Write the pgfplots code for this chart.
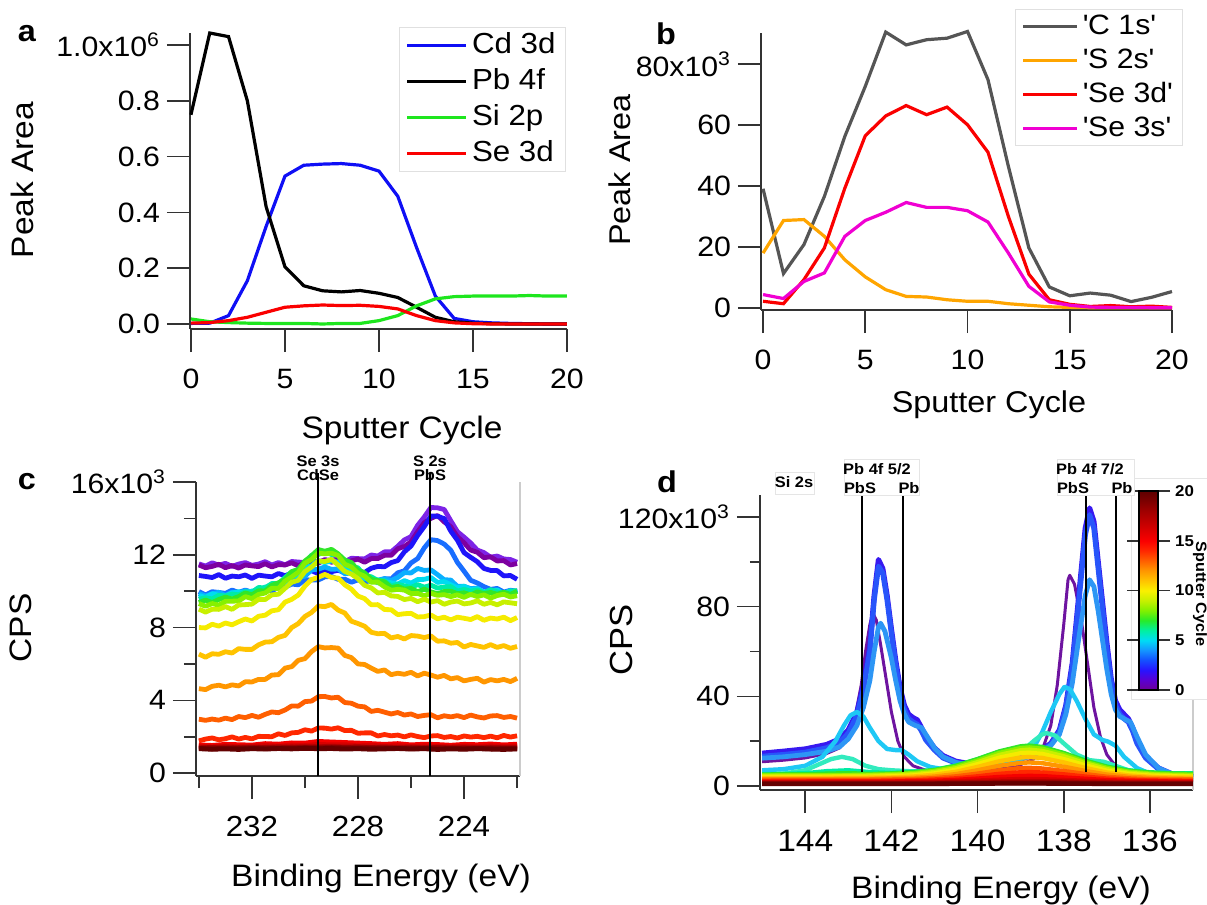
\documentclass[border=0pt]{standalone}
\usepackage{fontspec}
\setmainfont[FakeStretch=1.08]{Liberation Sans}
\usepackage{pgfplots}
\usepackage{pgfplotstable}
\pgfplotsset{compat=1.18}

\definecolor{cdblue}{RGB}{15,15,245}
\definecolor{sigreen}{RGB}{30,230,30}
\definecolor{sered}{RGB}{250,0,0}
\definecolor{cgray}{RGB}{85,85,85}
\definecolor{sorange}{RGB}{255,165,0}
\definecolor{semag}{RGB}{240,0,210}
\definecolor{s0}{RGB}{125,35,230}
\definecolor{s1}{RGB}{125,0,160}
\definecolor{s2}{RGB}{30,20,250}
\definecolor{s3}{RGB}{25,110,255}
\definecolor{s4}{RGB}{10,175,255}
\definecolor{s5}{RGB}{0,220,240}
\definecolor{s6}{RGB}{0,235,165}
\definecolor{s7}{RGB}{50,230,40}
\definecolor{s8}{RGB}{135,240,0}
\definecolor{s9}{RGB}{200,240,0}
\definecolor{s10}{RGB}{245,235,0}
\definecolor{s11}{RGB}{255,195,0}
\definecolor{s12}{RGB}{255,150,0}
\definecolor{s13}{RGB}{255,95,0}
\definecolor{s14}{RGB}{255,40,0}
\definecolor{s15}{RGB}{245,0,0}
\definecolor{s16}{RGB}{215,0,0}
\definecolor{s17}{RGB}{185,0,0}
\definecolor{s18}{RGB}{155,0,0}
\definecolor{s19}{RGB}{125,0,0}
\definecolor{s20}{RGB}{100,0,0}
\definecolor{dpurple}{RGB}{110,20,160}
\definecolor{dblueA}{RGB}{55,25,240}
\definecolor{dblueB}{RGB}{40,85,250}
\definecolor{dblueC}{RGB}{45,150,245}
\definecolor{dcyan}{RGB}{30,200,245}
\definecolor{daqua}{RGB}{50,235,190}

\pgfplotsset{
  igor/.style={
    scale only axis,
    axis lines*=left,
    axis line style={black!80, line width=0.8pt},
    every tick/.style={black!80, line width=0.8pt},
    tick align=outside,
    major tick length=11.5pt,
    minor tick length=6pt,
    /pgf/number format/assume math mode=true,
    tick label style={font=\fontsize{14}{16}\selectfont},
    xticklabel style={yshift=-5pt},
    clip=false,
    legend cell align=left,
  },
}

% panel c: spectra, thousands of CPS, cycles 0-14
\pgfplotstableread{
x c0 c1 c2 c3 c4 c5 c6 c7 c8 c9 c10 c11 c12 c13 c14
234.00 11.50 11.44 10.86 9.98 9.87 9.76 9.55 9.37 9.32 9.01 8.00 6.54 4.64 2.96 1.77
233.75 11.38 11.29 10.81 9.79 9.73 9.65 9.64 9.51 9.17 8.85 7.98 6.37 4.59 2.90 1.87
233.50 11.56 11.36 10.75 9.97 9.85 9.86 9.57 9.37 9.32 9.01 8.18 6.56 4.77 2.97 1.93
233.25 11.43 11.48 10.91 9.93 9.94 9.77 9.77 9.54 9.23 9.00 8.08 6.53 4.83 2.91 1.83
233.00 11.53 11.29 10.71 9.88 9.76 9.72 9.73 9.67 9.44 9.15 8.25 6.67 4.74 3.02 1.89
232.75 11.36 11.41 10.83 10.06 9.94 9.90 9.84 9.57 9.45 9.00 8.15 6.60 4.85 2.94 1.99
232.50 11.49 11.27 10.79 9.93 9.90 9.97 9.80 9.70 9.46 9.24 8.32 6.84 4.79 3.11 1.87
232.25 11.57 11.44 10.89 10.06 10.03 9.89 9.97 9.90 9.70 9.26 8.47 6.80 5.02 3.05 1.96
232.00 11.42 11.39 10.70 9.94 9.95 10.01 9.92 9.80 9.59 9.29 8.36 6.80 5.01 3.17 1.88
231.75 11.49 11.35 10.88 10.07 10.18 9.98 10.20 10.02 9.82 9.55 8.62 7.05 5.15 3.07 2.02
231.50 11.62 11.51 10.83 10.17 10.13 10.23 10.18 10.01 9.90 9.54 8.68 7.20 5.15 3.23 2.01
231.25 11.44 11.33 10.79 10.01 10.13 10.25 10.42 10.32 10.16 9.80 8.92 7.22 5.39 3.36 2.00
231.00 11.57 11.46 10.97 10.22 10.36 10.44 10.41 10.46 10.15 9.83 8.98 7.46 5.41 3.32 2.16
230.75 11.45 11.44 10.85 10.22 10.51 10.50 10.75 10.64 10.55 10.16 9.40 7.57 5.77 3.47 2.07
230.50 11.63 11.56 10.99 10.39 10.52 10.80 11.06 11.07 10.78 10.49 9.55 8.00 5.85 3.69 2.21
230.25 11.60 11.39 10.88 10.35 10.75 10.89 11.19 11.19 11.04 10.60 9.79 8.22 6.20 3.68 2.24
230.00 11.57 11.59 11.01 10.63 10.82 11.30 11.56 11.66 11.54 11.08 10.28 8.61 6.29 3.93 2.38
229.75 11.76 11.57 11.13 10.61 11.17 11.40 11.98 11.94 11.74 11.33 10.64 8.83 6.68 3.96 2.31
229.50 11.58 11.54 10.96 10.61 11.21 11.68 12.01 12.29 12.10 11.66 10.76 9.18 6.95 4.20 2.48
229.25 11.73 11.72 11.13 10.79 11.33 11.57 12.21 12.19 12.05 11.63 10.92 9.15 6.88 4.21 2.47
229.00 11.69 11.59 11.07 10.81 11.20 11.66 12.01 12.30 12.09 11.75 10.75 9.27 6.90 4.13 2.42
228.75 11.80 11.71 11.15 10.65 11.22 11.59 12.00 12.05 11.96 11.44 10.72 8.96 6.87 4.17 2.49
228.50 11.62 11.57 11.02 10.66 10.96 11.26 11.70 11.71 11.48 11.09 10.35 8.80 6.47 3.88 2.34
228.25 11.81 11.67 11.20 10.49 11.00 11.12 11.37 11.57 11.33 10.94 10.11 8.35 6.35 3.84 2.35
228.00 11.79 11.76 11.09 10.62 10.75 11.05 11.28 11.15 10.98 10.69 9.73 8.22 6.00 3.68 2.19
227.75 11.77 11.59 11.03 10.51 10.75 10.70 10.85 11.01 10.82 10.32 9.59 8.07 5.97 3.64 2.21
227.50 11.99 11.79 11.26 10.58 10.51 10.68 10.79 10.65 10.49 10.18 9.25 7.74 5.77 3.39 2.21
227.25 11.93 11.79 11.36 10.51 10.61 10.45 10.59 10.58 10.50 9.90 9.26 7.66 5.59 3.45 2.04
227.00 12.16 11.97 11.34 10.69 10.69 10.54 10.57 10.51 10.24 9.94 8.99 7.68 5.67 3.35 2.12
226.75 12.16 11.97 11.57 10.67 10.59 10.46 10.28 10.20 10.05 9.74 8.98 7.43 5.41 3.25 2.05
226.50 12.47 12.33 11.68 11.01 10.75 10.39 10.38 10.26 10.10 9.71 8.71 7.51 5.49 3.33 2.09
226.25 12.82 12.46 12.16 11.12 11.02 10.58 10.29 10.11 10.06 9.54 8.76 7.37 5.43 3.19 1.99
226.00 13.00 12.71 12.48 11.55 11.00 10.44 10.21 10.15 9.87 9.60 8.78 7.56 5.54 3.25 2.10
225.75 13.62 13.27 13.06 11.79 11.25 10.64 10.36 9.97 9.88 9.42 8.58 7.53 5.34 3.11 2.01
225.50 14.08 13.76 13.55 12.38 11.14 10.65 10.22 10.11 9.74 9.56 8.60 7.45 5.49 3.17 1.95
225.25 14.60 14.00 14.13 12.83 11.17 10.75 10.33 9.96 9.88 9.40 8.69 7.54 5.39 3.21 2.04
225.00 14.58 14.16 14.12 12.78 10.91 10.48 10.17 9.86 9.77 9.48 8.48 7.25 5.27 3.04 2.06
224.75 14.49 13.81 13.99 12.59 10.63 10.53 10.23 9.98 9.81 9.28 8.57 7.27 5.37 3.15 1.96
224.50 13.87 13.54 13.30 12.25 10.61 10.35 10.25 10.00 9.70 9.40 8.42 7.14 5.18 3.09 2.01
224.25 13.27 12.99 12.80 11.58 10.26 10.19 10.00 9.86 9.80 9.46 8.57 7.18 5.25 3.16 1.93
224.00 12.97 12.66 12.12 11.10 10.27 10.27 10.10 9.91 9.66 9.30 8.51 6.93 5.07 3.05 2.04
223.75 12.65 12.26 11.86 10.60 10.14 10.07 10.00 9.79 9.83 9.35 8.44 7.07 5.15 3.19 1.98
223.50 12.26 12.14 11.62 10.45 10.17 10.13 10.07 9.96 9.70 9.47 8.60 6.99 5.21 3.09 2.02
223.25 12.12 11.84 11.25 10.25 9.93 9.94 9.92 9.87 9.80 9.28 8.40 6.91 5.00 3.03 1.95
223.00 11.87 11.89 11.14 10.10 10.06 10.02 10.08 9.93 9.62 9.38 8.52 7.06 5.14 3.14 2.03
222.75 11.93 11.66 11.13 10.15 9.98 10.07 9.96 9.83 9.76 9.25 8.47 6.91 5.07 3.16 1.94
222.50 11.77 11.68 10.84 9.95 9.89 9.85 9.87 9.94 9.83 9.41 8.57 7.01 5.15 3.06 2.07
222.25 11.74 11.44 10.86 10.05 10.04 9.99 10.00 9.82 9.68 9.36 8.38 6.86 5.03 3.11 1.98
222.00 11.59 11.52 10.65 10.00 9.89 9.92 10.03 10.00 9.75 9.31 8.55 6.96 5.21 3.02 2.05
}\speccee

% panel c: cycles 15-20, nearly flat
\pgfplotstableread{
x c15 c16 c17 c18 c19 c20
234.0 1.55 1.48 1.43 1.38 1.36 1.34
233.5 1.52 1.45 1.40 1.41 1.33 1.31
233.0 1.58 1.50 1.45 1.37 1.37 1.33
232.5 1.56 1.46 1.41 1.40 1.35 1.30
232.0 1.54 1.49 1.44 1.38 1.38 1.34
231.5 1.62 1.52 1.42 1.42 1.34 1.32
231.0 1.59 1.48 1.46 1.39 1.37 1.35
230.5 1.66 1.54 1.43 1.43 1.36 1.33
230.0 1.65 1.51 1.47 1.40 1.39 1.36
229.5 1.74 1.58 1.45 1.42 1.37 1.34
229.0 1.71 1.55 1.48 1.44 1.40 1.35
228.5 1.68 1.56 1.44 1.40 1.38 1.32
228.0 1.65 1.50 1.46 1.42 1.36 1.34
227.5 1.62 1.53 1.42 1.39 1.38 1.31
227.0 1.58 1.48 1.45 1.41 1.35 1.33
226.5 1.62 1.51 1.41 1.37 1.37 1.35
226.0 1.55 1.46 1.44 1.40 1.34 1.32
225.5 1.59 1.50 1.40 1.38 1.36 1.34
225.0 1.57 1.47 1.43 1.41 1.33 1.30
224.5 1.53 1.45 1.41 1.37 1.36 1.33
224.0 1.58 1.49 1.44 1.39 1.34 1.31
223.5 1.56 1.46 1.40 1.36 1.37 1.34
223.0 1.60 1.50 1.43 1.40 1.33 1.32
222.5 1.55 1.47 1.41 1.38 1.35 1.30
222.0 1.59 1.49 1.42 1.37 1.34 1.33
}\specflat

% panel d: cycles 6-20, broad peak
\pgfplotstableread{
x d6 d7 d8 d9 d10 d11 d12 d13 d14 d15 d16 d17 d18 d19 d20
145.0 5.3 5.1 4.7 4.3 3.9 3.5 3.1 2.7 2.2 1.9 1.6 1.4 1.2 1.0 0.9
144.5 5.4 5.2 4.8 4.4 3.9 3.5 3.1 2.7 2.3 1.9 1.6 1.4 1.2 1.0 0.9
144.0 5.7 5.2 4.8 4.4 4.0 3.5 3.1 2.7 2.3 1.9 1.6 1.4 1.2 1.0 0.9
143.5 6.6 5.5 4.8 4.4 4.0 3.6 3.1 2.7 2.3 2.0 1.6 1.4 1.2 1.0 0.9
143.0 7.0 5.7 4.9 4.5 4.1 3.6 3.2 2.7 2.3 2.0 1.6 1.4 1.2 1.0 0.9
142.5 6.2 5.4 5.0 4.6 4.1 3.7 3.2 2.8 2.3 2.0 1.6 1.4 1.2 1.0 0.9
142.0 5.8 5.6 5.2 4.8 4.3 3.8 3.4 2.9 2.4 2.0 1.7 1.4 1.2 1.0 0.9
141.5 6.3 6.1 5.7 5.2 4.7 4.2 3.6 3.1 2.5 2.1 1.7 1.5 1.2 1.0 0.9
141.0 7.2 7.1 6.7 6.2 5.6 5.0 4.2 3.5 2.9 2.3 1.8 1.5 1.3 1.0 0.9
140.5 9.1 9.0 8.5 7.9 7.2 6.3 5.3 4.3 3.4 2.7 2.1 1.6 1.4 1.1 1.0
140.0 11.9 12.0 11.3 10.6 9.7 8.5 7.0 5.5 4.3 3.3 2.4 1.8 1.5 1.2 1.0
139.5 15.2 15.4 14.7 13.8 12.6 11.0 9.0 7.0 5.4 4.0 2.8 2.0 1.6 1.2 1.1
139.0 17.4 17.7 16.9 15.9 14.6 12.7 10.3 8.0 6.1 4.4 3.1 2.2 1.7 1.3 1.1
138.8 17.7 18.0 17.2 16.2 14.8 12.9 10.5 8.1 6.2 4.5 3.1 2.2 1.7 1.3 1.1
138.5 17.1 17.4 16.6 15.6 14.3 12.5 10.2 7.8 6.0 4.4 3.0 2.2 1.7 1.3 1.1
138.0 14.5 14.7 14.0 13.2 12.0 10.5 8.6 6.7 5.2 3.8 2.7 2.0 1.6 1.2 1.0
137.5 11.3 11.3 10.7 10.1 9.2 8.0 6.7 5.3 4.2 3.2 2.3 1.8 1.4 1.1 1.0
137.0 8.6 8.6 8.1 7.5 6.8 6.0 5.1 4.1 3.3 2.6 2.0 1.6 1.3 1.1 0.9
136.5 7.0 6.8 6.4 5.9 5.4 4.7 4.1 3.4 2.8 2.3 1.8 1.5 1.3 1.0 0.9
136.0 6.1 6.0 5.5 5.1 4.6 4.1 3.6 3.0 2.5 2.1 1.7 1.5 1.2 1.0 0.9
135.5 5.7 5.6 5.1 4.7 4.3 3.8 3.3 2.8 2.4 2.0 1.7 1.4 1.2 1.0 0.9
135.0 5.6 5.4 5.0 4.5 4.1 3.7 3.2 2.8 2.3 2.0 1.6 1.4 1.2 1.0 0.9
}\specdee

\begin{document}
\begin{tikzpicture}
\useasboundingbox (0,0) rectangle (603.5pt,-452.5pt);

% ---------------- a ----------------
\begin{axis}[igor,
  at={(95pt,-164.5pt)}, anchor=south west,
  width=188.5pt, height=148pt,
  xmin=-0.05, xmax=20, ymin=-0.018, ymax=1.043,
  xtick={0,5,10,15,20}, ytick={0,0.2,0.4,0.6,0.8,1.0},
  yticklabels={0.0,0.2,0.4,0.6,0.8,1.0x10\textsuperscript{6}},
  legend style={at={(1,1)}, anchor=north east, xshift=-0.5pt, yshift=3pt,
    draw=black!12, fill=white, inner xsep=3pt, inner ysep=0pt,
    font=\fontsize{14.5}{16}\selectfont,
    nodes={text height=11pt, text depth=3pt, inner sep=2pt},
    /tikz/every even column/.append style={column sep=5.5pt}},
  legend image code/.code={\draw[#1, line width=1.75pt] (0pt,0pt) -- (29.5pt,0pt);},
]
\addplot[cdblue, line width=1.6pt] coordinates {
  (0,0.002) (1,0.003) (2,0.03) (3,0.155) (4,0.35) (5,0.53) (6,0.569) (7,0.573)
  (8,0.575) (9,0.569) (10,0.548) (11,0.458) (12,0.274) (13,0.10) (14,0.02)
  (15,0.008) (16,0.004) (17,0.002) (18,0.001) (19,0.0) (20,0.0)};
\addlegendentry{Cd 3d}
\addplot[black, line width=1.6pt] coordinates {
  (0,0.75) (1,1.043) (2,1.03) (3,0.80) (4,0.42) (5,0.205) (6,0.137) (7,0.119)
  (8,0.115) (9,0.12) (10,0.11) (11,0.095) (12,0.06) (13,0.024) (14,0.008)
  (15,0.003) (16,0.001) (17,0) (18,0) (19,0) (20,0)};
\addlegendentry{Pb 4f}
\addplot[sigreen, line width=1.6pt] coordinates {
  (0,0.018) (1,0.008) (2,0.005) (3,0.003) (4,0.002) (5,0.002) (6,0.002) (7,0.0)
  (8,0.002) (9,0.002) (10,0.012) (11,0.03) (12,0.065) (13,0.09) (14,0.098)
  (15,0.1) (16,0.1) (17,0.1) (18,0.102) (19,0.1) (20,0.1)};
\addlegendentry{Si 2p}
\addplot[sered, line width=1.6pt] coordinates {
  (0,0.003) (1,0.005) (2,0.012) (3,0.024) (4,0.042) (5,0.06) (6,0.065) (7,0.068)
  (8,0.066) (9,0.067) (10,0.063) (11,0.054) (12,0.03) (13,0.012) (14,0.004)
  (15,0.001) (16,0) (17,0) (18,0) (19,0) (20,0)};
\addlegendentry{Se 3d}
\end{axis}

% ---------------- b ----------------
\begin{axis}[igor,
  at={(380.5pt,-155pt)}, anchor=south west,
  width=205.5pt, height=138.5pt,
  xmin=-0.1, xmax=20, ymin=-0.66, ymax=90.2,
  xtick={0,5,10,15,20}, ytick={0,20,40,60,80},
  yticklabels={0,20,40,60,80x10\textsuperscript{3}},
  legend style={at={(1,1)}, anchor=north east, xshift=5.5pt, yshift=12pt,
    draw=black!12, fill=white, inner xsep=3pt, inner ysep=0pt,
    font=\fontsize{14}{16}\selectfont,
    nodes={text height=10.5pt, text depth=2.5pt, inner sep=2pt},
    /tikz/every even column/.append style={column sep=4.5pt}},
  legend image code/.code={\draw[#1, line width=1.75pt] (0pt,0pt) -- (27pt,0pt);},
]
\addplot[cgray, line width=1.6pt] coordinates {
  (0,39.1) (1,11.3) (2,20.8) (3,36.6) (4,56.3) (5,72.7) (6,90.5) (7,86.3)
  (8,88.0) (9,88.5) (10,90.7) (11,74.9) (12,46.4) (13,19.7) (14,6.9)
  (15,4.0) (16,4.9) (17,4.2) (18,2.1) (19,3.5) (20,5.4)};
\addlegendentry{\textquotesingle C 1s\textquotesingle}
\addplot[sorange, line width=1.6pt] coordinates {
  (0,18.0) (1,28.7) (2,29.0) (3,23.5) (4,15.8) (5,10.2) (6,6.0) (7,3.8)
  (8,3.6) (9,2.7) (10,2.2) (11,2.2) (12,1.4) (13,0.9) (14,0.4)
  (15,0.2) (16,0.1) (17,0.1) (18,0.1) (19,0.1) (20,0.1)};
\addlegendentry{\textquotesingle S 2s\textquotesingle}
\addplot[sered, line width=1.6pt] coordinates {
  (0,2.2) (1,1.4) (2,9.3) (3,19.7) (4,39.3) (5,56.5) (6,63.0) (7,66.4)
  (8,63.4) (9,65.9) (10,60.1) (11,51.1) (12,30.0) (13,11.1) (14,2.7)
  (15,1.2) (16,0.5) (17,0.8) (18,0.4) (19,0.6) (20,0.2)};
\addlegendentry{\textquotesingle Se 3d\textquotesingle}
\addplot[semag, line width=1.6pt] coordinates {
  (0,4.4) (1,3.1) (2,8.7) (3,11.5) (4,23.5) (5,28.7) (6,31.4) (7,34.6)
  (8,33.0) (9,33.0) (10,31.9) (11,28.2) (12,18.0) (13,7.1) (14,2.0)
  (15,0.9) (16,0.3) (17,0.2) (18,0.2) (19,0.1) (20,0.1)};
\addlegendentry{\textquotesingle Se 3s\textquotesingle}
\end{axis}

% ---------------- c ----------------
\begin{axis}[igor,
  at={(98pt,-388pt)}, anchor=south west,
  width=162pt, height=147pt,
  x dir=reverse, xmin=221.89, xmax=234.11, ymin=-0.16, ymax=16,
  xtick={224,228,232}, minor xtick={222,226,230,234},
  ytick={0,4,8,12,16}, minor ytick={2,6,10,14},
  yticklabels={0,4,8,12,16x10\textsuperscript{3}},
  xticklabel style={font=\fontsize{14.5}{16}\selectfont},
]
\draw[black!20, line width=0.6pt] (rel axis cs:1,0) -- (rel axis cs:1,1);
\pgfplotsinvokeforeach{0,...,14}{
  \addplot[color=s#1, line width=2.4pt, line join=round] table[x=x, y=c#1] {\speccee};
}
\pgfplotsinvokeforeach{15,...,20}{
  \addplot[color=s#1, line width=2.4pt, line join=round] table[x=x, y=c#1] {\specflat};
}
\draw[black, line width=1.2pt] (axis cs:229.5,-0.16) -- (axis cs:229.5,16.5);
\draw[black, line width=1.2pt] (axis cs:225.28,-0.16) -- (axis cs:225.28,16.5);
\end{axis}

% ---------------- d ----------------
\begin{axis}[igor,
  at={(380pt,-395pt)}, anchor=south west,
  width=216.5pt, height=147.5pt,
  x dir=reverse, xmin=135.0, xmax=145.05, ymin=-1.8, ymax=129.8,
  xtick={136,138,140,142,144},
  ytick={0,40,80,120}, minor ytick={20,60,100}, minor tick length=5pt,
  yticklabels={0,40,80,120x10\textsuperscript{3}},
  xticklabel style={font=\fontsize{15.5}{17}\selectfont},
  colormap={igor}{rgb255=(110,0,150) rgb255=(90,0,210) rgb255=(40,20,255)
    rgb255=(20,80,255) rgb255=(20,150,255) rgb255=(0,220,245) rgb255=(0,240,160)
    rgb255=(40,235,40) rgb255=(130,240,0) rgb255=(200,240,0) rgb255=(250,240,0)
    rgb255=(255,195,0) rgb255=(255,150,0) rgb255=(255,95,0) rgb255=(255,40,0)
    rgb255=(250,0,0) rgb255=(220,0,0) rgb255=(190,0,0) rgb255=(160,0,0)
    rgb255=(125,0,0) rgb255=(95,0,0)},
  colorbar, point meta min=0, point meta max=20,
  colorbar style={
    at={(parent axis.north east)}, anchor=north west, xshift=-35.5pt, yshift=2pt,
    scale only axis, width=9.5pt, height=99.5pt,
    ytick={0,5,10,15,20},
    tick align=outside, major tick length=6pt,
    every tick/.style={black!80, line width=0.8pt},
    axis line style={black, line width=0.6pt},
    /pgf/number format/assume math mode=true,
    yticklabel style={font=\bfseries\fontsize{7.8}{9}\selectfont, xshift=-1pt},
  },
]
\draw[black!20, line width=0.6pt] (rel axis cs:1,0) -- (rel axis cs:1,1);
\addplot[dpurple, line width=1.5pt, line join=round] coordinates {
  (145.0,10.8) (144.5,11.5) (144.0,12.5) (143.5,14.5) (143.2,17) (143.0,22)
  (142.85,30) (142.7,45) (142.6,60) (142.5,72) (142.43,77) (142.35,74)
  (142.25,63) (142.1,45) (142.0,33) (141.85,20) (141.7,13) (141.5,9)
  (141.2,7) (140.8,6) (140.4,5.5) (140.0,6) (139.5,7.5) (139.0,9.5)
  (138.7,12) (138.5,16) (138.3,27) (138.15,45) (138.0,72) (137.9,92)
  (137.86,94) (137.75,90) (137.6,75) (137.45,55) (137.3,35) (137.15,22)
  (137.0,14) (136.8,9) (136.5,6) (136.0,4) (135.5,3.2) (135.0,3)};
\addplot[dblueA, line width=2.6pt, line join=round] coordinates {
  (145.0,14.6) (144.5,15.5) (144.0,16.5) (143.5,18.5) (143.2,21) (143.0,25)
  (142.8,33) (142.65,45) (142.5,62) (142.4,85) (142.3,101) (142.2,97)
  (142.1,85) (142.0,70) (141.9,56) (141.8,44) (141.7,36) (141.6,32)
  (141.5,30.5) (141.4,29.5) (141.3,26) (141.2,22) (141.0,17) (140.8,13.5)
  (140.5,11) (140.2,10) (140.0,9.8) (139.5,10.5) (139.0,12.5) (138.6,15)
  (138.3,19) (138.1,25) (137.95,36) (137.8,55) (137.65,85) (137.5,115)
  (137.4,124) (137.3,118) (137.2,100) (137.1,82) (137.0,64) (136.9,48)
  (136.8,38) (136.7,34) (136.6,32) (136.5,30) (136.4,26) (136.3,20)
  (136.1,13) (135.8,8) (135.5,5.5) (135.0,4.2)};
\addplot[dblueB, line width=2.6pt, line join=round] coordinates {
  (145.0,13.2) (144.5,14.0) (144.0,15.0) (143.5,17.0) (143.2,19.5) (143.0,23.5)
  (142.8,31.5) (142.65,43) (142.5,60) (142.4,83) (142.3,98) (142.2,95)
  (142.1,83) (142.0,68) (141.9,54) (141.8,42) (141.7,34) (141.6,30)
  (141.5,28.5) (141.4,27.5) (141.3,24.5) (141.2,20.5) (141.0,16) (140.8,12.5)
  (140.5,10.2) (140.2,9.4) (140.0,9.2) (139.5,10) (139.0,12) (138.6,14.5)
  (138.3,18.5) (138.1,24) (137.95,35) (137.8,53) (137.65,82) (137.5,112)
  (137.4,121) (137.3,115) (137.2,97) (137.1,79) (137.0,61) (136.9,46)
  (136.8,36) (136.7,32) (136.6,30) (136.5,28.5) (136.4,24.5) (136.3,19)
  (136.1,12.5) (135.8,7.5) (135.5,5.2) (135.0,4.0)};
\addplot[dblueC, line width=2.4pt, line join=round] coordinates {
  (145.0,12.4) (144.5,13.0) (144.0,14.0) (143.5,15.5) (143.2,17.5) (143.0,21)
  (142.8,27) (142.65,35) (142.5,47) (142.4,60) (142.3,71) (142.25,72.6)
  (142.15,69) (142.0,57) (141.9,47) (141.8,38) (141.7,32) (141.6,28.5)
  (141.45,27) (141.3,26) (141.2,23) (141.0,17) (140.8,13) (140.5,10.5)
  (140.2,9.3) (140.0,9.2) (139.5,10) (139.0,12) (138.6,14.5) (138.3,18)
  (138.1,23) (137.95,32) (137.8,46) (137.65,66) (137.5,85) (137.4,92)
  (137.3,89) (137.2,78) (137.1,65) (137.0,52) (136.9,41) (136.8,34)
  (136.7,31) (136.55,29.5) (136.45,28.5) (136.3,22) (136.1,14) (135.8,8)
  (135.5,5.5) (135.0,4.0)};
\addplot[dcyan, line width=2.2pt, line join=round] coordinates {
  (145.0,7) (144.5,7.5) (144.0,9) (143.6,13) (143.3,20) (143.1,27)
  (142.95,31.5) (142.8,33) (142.65,31) (142.5,26) (142.3,20) (142.1,16.5)
  (141.9,16) (141.76,16) (141.6,14) (141.4,11) (141.1,8.5) (140.8,7.5)
  (140.5,7) (140.0,7.5) (139.5,9) (139.0,12) (138.7,17) (138.5,24)
  (138.3,33) (138.1,41) (137.98,44.3) (137.85,43) (137.7,38) (137.5,30)
  (137.3,23) (137.1,20.5) (136.97,19.8) (136.8,18) (136.6,13) (136.3,8)
  (136.0,5.5) (135.5,4.3) (135.0,4)};
\addplot[daqua, line width=2.2pt, line join=round] coordinates {
  (145.0,4.9) (144.5,5.5) (144.0,7) (143.7,9.5) (143.4,12) (143.15,13)
  (142.9,12) (142.6,9) (142.3,7.5) (142.0,7) (141.5,6.5) (141.0,6.5)
  (140.5,7) (140.0,8) (139.5,10.5) (139.0,15) (138.7,20) (138.5,23)
  (138.4,23.6) (138.2,22.5) (138.0,19) (137.7,14) (137.4,11.5) (137.07,10.8)
  (136.8,9) (136.5,7) (136.0,5) (135.5,4.5) (135.0,4.4)};
\pgfplotsinvokeforeach{6,...,20}{
  \addplot[color=s#1, line width=2.2pt, line join=round] table[x=x, y=d#1] {\specdee};
}
\draw[black, line width=1pt] (axis cs:142.69,6.2) -- (axis cs:142.69,129.3);
\draw[black, line width=1pt] (axis cs:141.72,6.2) -- (axis cs:141.72,129.3);
\draw[black, line width=1pt] (axis cs:137.49,6.2) -- (axis cs:137.49,129.3);
\draw[black, line width=1pt] (axis cs:136.79,6.2) -- (axis cs:136.79,129.3);
\filldraw[fill=white, draw=black!10] (axis cs:136.42,38.4) rectangle (axis cs:134.4,137.4);
\end{axis}

% ---------------- text in pixel units ----------------
\begin{scope}[x=0.5pt, y=-0.5pt]
\node[font=\bfseries\fontsize{15}{15}\selectfont] at (27,34) {a};
\node[font=\bfseries\fontsize{15}{15}\selectfont] at (666,34) {b};
\node[font=\bfseries\fontsize{15}{15}\selectfont] at (27,482) {c};
\node[font=\bfseries\fontsize{15}{15}\selectfont] at (667,482) {d};

\node[font=\fontsize{15.5}{16}\selectfont] at (402,430) {Sputter Cycle};
\node[rotate=90, font=\fontsize{15.5}{16}\selectfont] at (22,180) {Peak Area};
\node[font=\fontsize{15}{16}\selectfont] at (989,405) {Sputter Cycle};
\node[rotate=90, font=\fontsize{15}{16}\selectfont] at (620,170) {Peak Area};
\node[font=\fontsize{15.5}{16}\selectfont] at (381,878) {Binding Energy (eV)};
\node[rotate=90, font=\fontsize{15.5}{16}\selectfont] at (21,628) {CPS};
\node[font=\fontsize{15.5}{16}\selectfont] at (1001,890) {Binding Energy (eV)};
\node[rotate=90, font=\fontsize{16}{16}\selectfont] at (621,640) {CPS};
\node[rotate=-90, inner sep=0pt, font=\bfseries\fontsize{7.5}{8}\selectfont] at (1200,594) {Sputter Cycle};

\begin{scope}[every node/.style={font=\bfseries\fontsize{7.6}{8}\selectfont, inner sep=0pt}]
\node at (318,461) {Se 3s};
\node at (318,475) {CdSe};
\node at (430,461) {S 2s};
\node at (430,475) {PbS};

\filldraw[fill=white, draw=black!10] (775,472) rectangle (814,494);
\filldraw[fill=white, draw=black!10] (844,459) rectangle (919,495);
\filldraw[fill=white, draw=black!10] (1057,459) rectangle (1134,495);
\node at (794,482) {Si 2s};
\node at (877,469) {Pb 4f 5/2};
\node at (860,488) {PbS};
\node at (909,488) {Pb};
\node at (1090,469) {Pb 4f 7/2};
\node at (1073,488) {PbS};
\node at (1122,488) {Pb};
\end{scope}
\end{scope}
\end{tikzpicture}
\end{document}
